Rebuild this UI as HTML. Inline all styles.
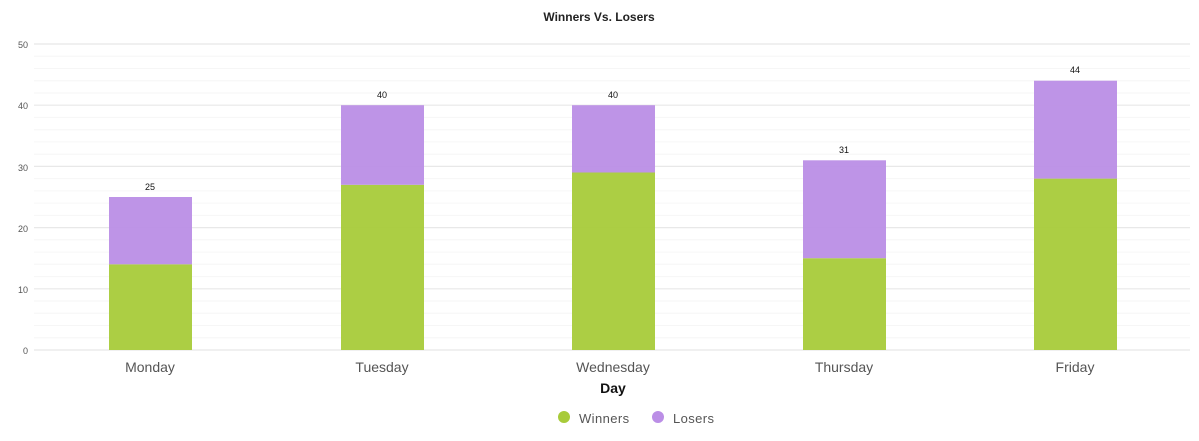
<!DOCTYPE html>
<html><head><style>body{margin:0;background:#fff}svg{display:block}text{font-family:"Liberation Sans",sans-serif}</style></head><body>
<svg width="1199" height="441" xmlns="http://www.w3.org/2000/svg">
<text x="599" y="21" text-anchor="middle" font-size="12" font-weight="bold" fill="#222">Winners Vs. Losers</text>
<g stroke="#f6f6f6" stroke-width="1">
<line x1="34" x2="1190" y1="337.8" y2="337.8"/><line x1="34" x2="1190" y1="325.5" y2="325.5"/><line x1="34" x2="1190" y1="313.3" y2="313.3"/><line x1="34" x2="1190" y1="301" y2="301"/>
<line x1="34" x2="1190" y1="276.6" y2="276.6"/><line x1="34" x2="1190" y1="264.3" y2="264.3"/><line x1="34" x2="1190" y1="252.1" y2="252.1"/><line x1="34" x2="1190" y1="239.8" y2="239.8"/>
<line x1="34" x2="1190" y1="215.4" y2="215.4"/><line x1="34" x2="1190" y1="203.1" y2="203.1"/><line x1="34" x2="1190" y1="190.9" y2="190.9"/><line x1="34" x2="1190" y1="178.6" y2="178.6"/>
<line x1="34" x2="1190" y1="154.2" y2="154.2"/><line x1="34" x2="1190" y1="141.9" y2="141.9"/><line x1="34" x2="1190" y1="129.7" y2="129.7"/><line x1="34" x2="1190" y1="117.4" y2="117.4"/>
<line x1="34" x2="1190" y1="93" y2="93"/><line x1="34" x2="1190" y1="80.7" y2="80.7"/><line x1="34" x2="1190" y1="68.5" y2="68.5"/><line x1="34" x2="1190" y1="56.2" y2="56.2"/>
</g>
<g stroke="#e8e8e8" stroke-width="1.2">
<line x1="34" x2="1190" y1="350" y2="350"/><line x1="34" x2="1190" y1="288.8" y2="288.8"/><line x1="34" x2="1190" y1="227.6" y2="227.6"/><line x1="34" x2="1190" y1="166.4" y2="166.4"/><line x1="34" x2="1190" y1="105.2" y2="105.2"/><line x1="34" x2="1190" y1="44" y2="44"/>
</g>
<g font-size="9" fill="#555" text-anchor="end">
<text x="28" y="354">0</text><text x="28" y="293">10</text><text x="28" y="232">20</text><text x="28" y="171">30</text><text x="28" y="109">40</text><text x="28" y="48">50</text>
</g>
<g fill="#a8cb3a" fill-opacity="0.95">
<rect x="109" y="264.3" width="83" height="85.7"/><rect x="341" y="184.8" width="83" height="165.2"/><rect x="572" y="172.5" width="83" height="177.5"/><rect x="803" y="258.2" width="83" height="91.8"/><rect x="1034" y="178.6" width="83" height="171.4"/>
</g>
<g fill="#bb8ee6" fill-opacity="0.95">
<rect x="109" y="197" width="83" height="67.3"/><rect x="341" y="105.2" width="83" height="79.6"/><rect x="572" y="105.2" width="83" height="67.3"/><rect x="803" y="160.3" width="83" height="97.9"/><rect x="1034" y="80.7" width="83" height="97.9"/>
</g>
<g font-size="9" fill="#111" text-anchor="middle">
<text x="150" y="190">25</text><text x="382" y="98">40</text><text x="613" y="98">40</text><text x="844" y="153">31</text><text x="1075" y="73">44</text>
</g>
<g font-size="14" fill="#555" text-anchor="middle">
<text x="150" y="372">Monday</text><text x="382" y="372">Tuesday</text><text x="613" y="372">Wednesday</text><text x="844" y="372">Thursday</text><text x="1075" y="372">Friday</text>
</g>
<text x="613" y="393" text-anchor="middle" font-size="14" font-weight="bold" fill="#111">Day</text>
<circle cx="564" cy="417" r="6" fill="#a8cb3a"/><text x="579" y="423" font-size="13" fill="#555" letter-spacing="0.4">Winners</text>
<circle cx="658" cy="417" r="6" fill="#bb8ee6"/><text x="673" y="423" font-size="13" fill="#555" letter-spacing="0.4">Losers</text>
</svg>
</body></html>
